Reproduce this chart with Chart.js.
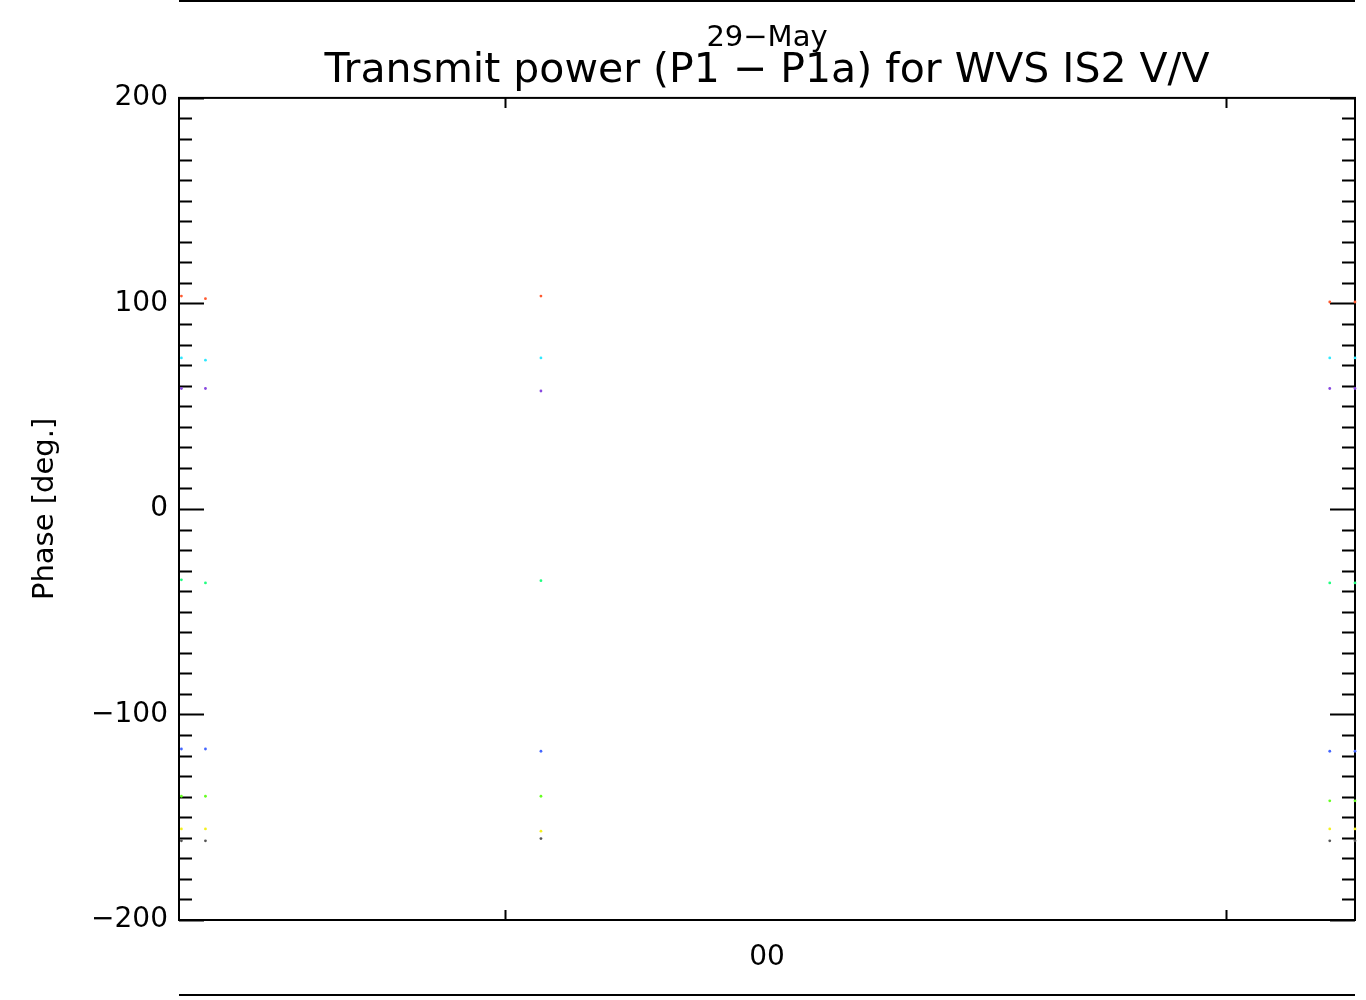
<!DOCTYPE html>
<html>
<head>
<meta charset="utf-8">
<style>
  html, body { margin: 0; padding: 0; background: #fff; }
  #wrap { width: 1366px; height: 1000px; }
</style>
</head>
<body>
<div id="wrap"><canvas id="phaseChart" width="1366" height="1000"></canvas></div>

<script src="https://cdn.jsdelivr.net/npm/chart.js"></script>
<script>
// time in minutes relative to 00 UT
const xTimes = [-48.7, -46.7, -18.8, 46.8, 48.9];
const xTickMarks = [-21.8, 38.2];
const xMin = -48.9, xMax = 48.9;

const redPhase    = [103.6, 102.3, 103.6, 100.7, 100.7];
const cyanPhase   = [73.5, 72.4, 73.5, 73.5, 73.5];
const purplePhase = [58.6, 58.6, 57.4, 58.6, 58.6];
const springPhase = [-34.5, -36.0, -34.9, -36.0, -36.0];
const bluePhase   = [-116.8, -116.8, -117.9, -117.9, -117.9];
const limePhase   = [-139.8, -139.8, -139.8, -142.0, -142.0];
const yellowPhase = [-155.7, -155.7, -156.8, -155.7, -155.7];
const grayPhase   = [-161.5, -161.5, -160.4, -161.5, -161.5];

const seriesList = [
  { name: 'ch1', values: redPhase,    color: '#ff5a30' },
  { name: 'ch2', values: cyanPhase,   color: '#30e8ff' },
  { name: 'ch3', values: purplePhase, color: '#8848e0' },
  { name: 'ch4', values: springPhase, color: '#20ff80' },
  { name: 'ch5', values: bluePhase,   color: '#4466ff' },
  { name: 'ch6', values: limePhase,   color: '#66ff22' },
  { name: 'ch7', values: yellowPhase, color: '#f4f020' },
  { name: 'ch8', values: grayPhase,   color: '#555555' }
];

const datasets = seriesList.map(s => ({
  label: s.name,
  data: xTimes.map((x, i) => ({ x: x, y: s.values[i] })),
  backgroundColor: s.color,
  borderColor: s.color,
  pointRadius: 1.4,
  pointBorderWidth: 0,
  showLine: false,
  clip: false
}));

const fontFam = "'DejaVu Sans', sans-serif";

// IDL style frame: box, inward ticks, lines above and below
const idlFrame = {
  id: 'idlFrame',
  beforeDatasetsDraw(chart) {
    const ctx = chart.ctx;
    const a = chart.chartArea;
    const ys = chart.scales.y;
    const xs = chart.scales.x;
    ctx.save();
    ctx.strokeStyle = '#000';
    ctx.lineWidth = 2;
    ctx.strokeRect(a.left, a.top, a.right - a.left, a.bottom - a.top);

    ctx.beginPath();
    for (let v = -200; v <= 200; v += 10) {
      const py = Math.round(ys.getPixelForValue(v)) + 0.5;
      const len = (v % 100 === 0) ? 25 : 13;
      ctx.moveTo(a.left, py); ctx.lineTo(a.left + len, py);
      ctx.moveTo(a.right, py); ctx.lineTo(a.right - len, py);
    }
    xTickMarks.forEach(t => {
      const px = Math.round(xs.getPixelForValue(t)) + 0.5;
      ctx.moveTo(px, a.bottom); ctx.lineTo(px, a.bottom - 10);
      ctx.moveTo(px, a.top); ctx.lineTo(px, a.top + 10);
    });
    ctx.stroke();

    ctx.beginPath();
    ctx.moveTo(a.left, 1); ctx.lineTo(a.right, 1);
    ctx.moveTo(a.left, 995); ctx.lineTo(a.right, 995);
    ctx.stroke();
    ctx.restore();
  }
};

new Chart(document.getElementById('phaseChart').getContext('2d'), {
  type: 'scatter',
  data: { datasets: datasets },
  plugins: [idlFrame],
  options: {
    responsive: false,
    animation: false,
    layout: { padding: { left: 0, right: 11, top: 0, bottom: 0 } },
    plugins: {
      legend: { display: false },
      tooltip: { enabled: false },
      title: {
        display: true,
        fullSize: false,
        text: '29\u2212May',
        color: '#000',
        font: { family: fontFam, size: 29, weight: 'normal', lineHeight: 1 },
        padding: { top: 24, bottom: 0 }
      },
      subtitle: {
        display: true,
        fullSize: false,
        text: 'Transmit power (P1 \u2212 P1a) for WVS IS2 V/V',
        color: '#000',
        font: { family: fontFam, size: 41, weight: 'normal', lineHeight: 0.9 },
        padding: { top: 0, bottom: 8 }
      }
    },
    scales: {
      x: {
        type: 'linear',
        min: xMin,
        max: xMax,
        grid: { display: false, drawTicks: false },
        border: { display: false },
        afterBuildTicks: s => { s.ticks = [{ value: 0 }]; },
        afterFit: s => { s.height = 80; },
        ticks: {
          color: '#000',
          padding: 21,
          maxRotation: 0,
          font: { family: fontFam, size: 28 },
          callback: () => '00'
        }
      },
      y: {
        min: -200,
        max: 200,
        grid: { display: false, drawTicks: false },
        border: { display: false },
        afterFit: s => { s.width = 179; },
        ticks: {
          stepSize: 10,
          autoSkip: false,
          color: '#000',
          padding: 11,
          font: { family: fontFam, size: 28 },
          callback: v => (v % 100 === 0) ? (v < 0 ? '\u2212' + Math.abs(v) : String(v)) : ''
        },
        title: {
          display: true,
          text: 'Phase [deg.]',
          color: '#000',
          font: { family: fontFam, size: 29 },
          padding: { top: 28, bottom: 0 }
        }
      }
    }
  }
});
</script>
</body>
</html>
